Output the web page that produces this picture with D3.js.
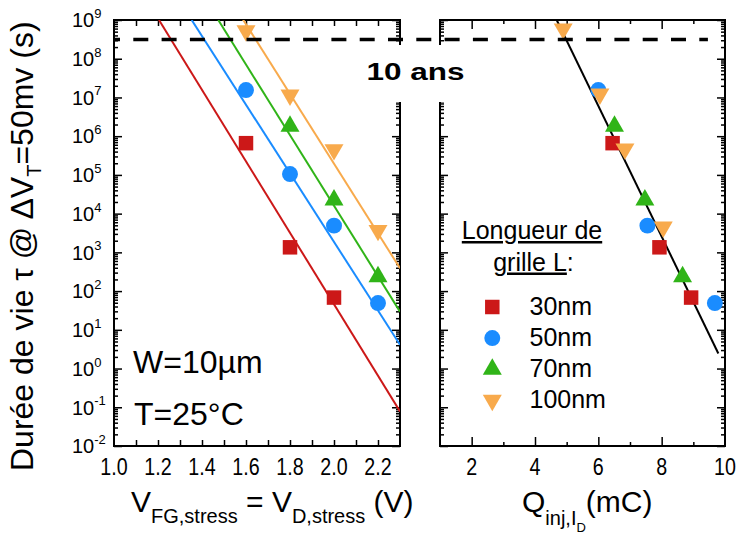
<!DOCTYPE html>
<html><head><meta charset="utf-8">
<script src="https://cdn.jsdelivr.net/npm/d3@7"></script>
<style>
html,body{margin:0;padding:0;background:#fff;}
svg text{font-family:'Liberation Sans',Arial,sans-serif;fill:#000;}
</style></head>
<body><svg id="c" width="739" height="536"></svg>
<script>
// ---------- DATA ----------
const gateLengths = ["30nm","50nm","70nm","100nm"];
// Left panel: stress voltage (V) vs lifetime (s)
const vStress30 = [1.6, 1.8, 2.0];
const tau30 = [6.6e5, 1.35e3, 68];
const vStress50 = [1.6, 1.8, 2.0, 2.2];
const tau50 = [1.55e7, 1.05e5, 4.9e3, 49];
const vStress70 = [1.8, 2.0, 2.2];
const tau70 = [1.8e6, 2.25e4, 235];
const vStress100 = [1.6, 1.8, 2.0, 2.2];
const tau100 = [5.3e8, 1.15e7, 4.5e5, 3.7e3];
// Left panel fit lines (two end points each, data units)
const fitV30 = [1.2045, 2.3], fitTau30 = [1e9, 0.078];
const fitV50 = [1.353, 2.3], fitTau50 = [1e9, 4.1];
const fitV70 = [1.474, 2.3], fitTau70 = [1e9, 29.5];
const fitV100 = [1.575, 2.3], fitTau100 = [1.3e9, 389];
// Right panel: injected charge (mC) vs lifetime (s)
const q30 = [6.45, 7.93, 8.93];
const tauQ30 = [6.6e5, 1.35e3, 68];
const q50 = [6.0, 7.55, 9.68];
const tauQ50 = [1.55e7, 4.9e3, 49];
const q70 = [6.51, 7.47, 8.66];
const tauQ70 = [1.8e6, 2.25e4, 235];
const q100 = [4.89, 6.05, 6.84, 8.05];
const tauQ100 = [5.9e8, 1.23e7, 4.7e5, 4.5e3];
const fitQ = [4.685, 9.79], fitTauQ = [1e9, 2.45];
// Reference: 10 years in seconds
const tenYears = 3.156e8;
// Ticks
const yDecades = [-2,-1,0,1,2,3,4,5,6,7,8,9];
const xTicksL = [1.1,1.2,1.3,1.4,1.5,1.6,1.7,1.8,1.9,2.0,2.1,2.2];
const xLabelValsL = [1.0,1.2,1.4,1.6,1.8,2.0,2.2];
const xLabelsL = ["1.0","1.2","1.4","1.6","1.8","2.0","2.2"];
const xTicksR = [2,3,4,5,6,7,8,9];
const xLabelValsR = [2,4,6,8,10];
const xLabelsR = ["2","4","6","8","10"];

// ---------- STYLE ----------
const colors = ["#cc1818","#1a8cff","#30b418","#f8aa4c"];
const symTypes = [d3.symbolSquare, d3.symbolCircle, d3.symbolTriangle, d3.symbolTriangle];
const symSizes = [210, 200, 156, 156];
const symRot = [0,0,0,180];

const svg = d3.select("#c");
const P = {top:20, bottom:446, lx0:114, lx1:400, rx0:440, rx1:725};
const y = d3.scaleLog().domain([1e-2,1e9]).range([P.bottom,P.top]);
const xL = d3.scaleLinear().domain([1.0,2.3]).range([P.lx0,P.lx1]);
const xR = d3.scaleLinear().domain([1,10]).range([P.rx0,P.rx1]);

const majorY = yDecades.map(e=>Math.pow(10,e));
const minorY = [];
yDecades.forEach(e=>{ if(e<9) for(let k=2;k<=9;k++) minorY.push(k*Math.pow(10,e)); });

// clip paths
const defs = svg.append("defs");
defs.append("clipPath").attr("id","clipL").append("rect")
  .attr("x",P.lx0).attr("y",P.top).attr("width",P.lx1-P.lx0).attr("height",P.bottom-P.top);
defs.append("clipPath").attr("id","clipR").append("rect")
  .attr("x",P.rx0).attr("y",P.top).attr("width",P.rx1-P.rx0).attr("height",P.bottom-P.top);

function yTicks(x0, x1){
  const g = svg.append("g");
  const mk = (axisFn, x, vals, len) => {
    const a = g.append("g").attr("transform",`translate(${x},0)`)
      .call(axisFn(y).tickValues(vals).tickSize(-len).tickFormat(""));
    a.select(".domain").remove();
    a.selectAll("line").attr("stroke","#000").attr("stroke-width",1.5);
  };
  mk(d3.axisLeft, x0, majorY, 8);
  mk(d3.axisLeft, x0, minorY, 4);
  mk(d3.axisRight, x1, majorY, 8);
  mk(d3.axisRight, x1, minorY, 4);
}
function xTicks(scale, vals, len){
  const g = svg.append("g");
  const b = g.append("g").attr("transform",`translate(0,${P.bottom})`)
    .call(d3.axisBottom(scale).tickValues(vals).tickSize(-1).tickFormat(""));
  const t = g.append("g").attr("transform",`translate(0,${P.top})`)
    .call(d3.axisTop(scale).tickValues(vals).tickSize(-1).tickFormat(""));
  [b,t].forEach(a=>{a.select(".domain").remove();});
  b.selectAll("line").attr("y2",d=>-len(d));
  t.selectAll("line").attr("y2",d=>len(d));
  g.selectAll("line").attr("stroke","#000").attr("stroke-width",1.5);
}

yTicks(P.lx0,P.lx1);
yTicks(P.rx0,P.rx1);
xTicks(xL, xTicksL, ()=>6);
xTicks(xR, xTicksR, d=> d%2===0 ? 9 : 4);

// frames
[[P.lx0,P.lx1],[P.rx0,P.rx1]].forEach(([a,b])=>{
  svg.append("rect").attr("x",a).attr("y",P.top).attr("width",b-a).attr("height",P.bottom-P.top)
    .attr("fill","none").attr("stroke","#000").attr("stroke-width",2);
});

// y tick labels
const yl = svg.append("g");
majorY.forEach((v,i)=>{
  const t = yl.append("text").attr("x",72).attr("y",y(v)+7.3).attr("font-size",20);
  t.append("tspan").text("10");
  t.append("tspan").attr("dy",-9.3).attr("font-size",13).text(String(yDecades[i]));
});

// x tick labels (narrow)
function xLabels(scale, vals, labels){
  vals.forEach((v,i)=>{
    svg.append("text").attr("text-anchor","middle").attr("font-size",24)
      .attr("transform",`translate(${scale(v)},475) scale(0.82,1)`).text(labels[i]);
  });
}
xLabels(xL, xLabelValsL, xLabelsL);
xLabels(xR, xLabelValsR, xLabelsR);

// fit lines
const line = (xs)=> d3.line().x(d=>xs(d[0])).y(d=>y(d[1]));
const fitsL = [[fitV30,fitTau30],[fitV50,fitTau50],[fitV70,fitTau70],[fitV100,fitTau100]];
const gL = svg.append("g").attr("clip-path","url(#clipL)");
fitsL.forEach(([xs,ts],i)=>{
  gL.append("path").attr("d",line(xL)(xs.map((v,j)=>[v,ts[j]])))
    .attr("fill","none").attr("stroke",colors[i]).attr("stroke-width",2);
});
const gR = svg.append("g").attr("clip-path","url(#clipR)");
gR.append("path").attr("d",line(xR)(fitQ.map((v,j)=>[v,fitTauQ[j]])))
  .attr("fill","none").attr("stroke","#000").attr("stroke-width",2);

// markers
function markers(xs, xv, tv, i){
  const sym = d3.symbol().type(symTypes[i]).size(symSizes[i]);
  xv.forEach((v,j)=>{
    svg.append("path").attr("d",sym())
      .attr("transform",`translate(${xs(v)},${y(tv[j])}) rotate(${symRot[i]})`)
      .attr("fill",colors[i]);
  });
}
markers(xL, vStress30, tau30, 0);
markers(xL, vStress50, tau50, 1);
markers(xL, vStress70, tau70, 2);
markers(xL, vStress100, tau100, 3);
markers(xR, q50, tauQ50, 1);
markers(xR, q30, tauQ30, 0);
markers(xR, q70, tauQ70, 2);
markers(xR, q100, tauQ100, 3);

// 10 years dashed line
svg.append("line").attr("x1",xL(1.0)-1).attr("x2",xR(9.46))
  .attr("y1",y(tenYears)).attr("y2",y(tenYears))
  .attr("stroke","#000").attr("stroke-width",3.5)
  .attr("stroke-dasharray","15,13.3").attr("stroke-dashoffset",8);

// white box + label
svg.append("rect").attr("x",358).attr("y",45).attr("width",114).attr("height",57).attr("fill","#fff");
svg.append("text").attr("x",366.5).attr("y",80).attr("font-size",24).attr("font-weight","bold")
  .attr("textLength",98).attr("lengthAdjust","spacingAndGlyphs").text("10 ans");

// annotations
svg.append("text").attr("x",133).attr("y",373).attr("font-size",32).text("W=10µm");
svg.append("text").attr("x",134).attr("y",424.5).attr("font-size",32).text("T=25°C");

// legend
const lg = svg.append("g");
const h1 = lg.append("text").attr("x",532).attr("y",239).attr("text-anchor","middle").attr("font-size",25);
h1.append("tspan").attr("text-decoration","underline").text("Longueur de");
const h2 = lg.append("text").attr("x",533.5).attr("y",270.5).attr("text-anchor","middle").attr("font-size",25);
h2.append("tspan").attr("text-decoration","underline").text("grille L");
h2.append("tspan").text(":");
gateLengths.forEach((name,i)=>{
  const by = 315 + i*31.1;
  const sym = d3.symbol().type(symTypes[i]).size(symSizes[i]);
  lg.append("path").attr("d",sym()).attr("fill",colors[i])
    .attr("transform",`translate(492.3,${by-8}) rotate(${symRot[i]})`);
  lg.append("text").attr("x",529.5).attr("y",by).attr("font-size",25).text(name);
});

// axis titles
const yt = svg.append("text").attr("transform","translate(33,471) rotate(-90)").attr("font-size",32);
yt.append("tspan").text("Durée de vie τ @ ΔV");
yt.append("tspan").attr("font-size",20).attr("dy",8).text("T");
yt.append("tspan").attr("dy",-8).text("=50mv (s)");

const xt = svg.append("text").attr("x",131).attr("y",512).attr("font-size",30);
xt.append("tspan").text("V");
xt.append("tspan").attr("font-size",20).attr("dy",11).text("FG,stress");
xt.append("tspan").attr("dy",-11).text(" = V");
xt.append("tspan").attr("font-size",20).attr("dy",11).text("D,stress");
xt.append("tspan").attr("dy",-11).text(" (V)");

const qt = svg.append("text").attr("x",522).attr("y",512).attr("font-size",30);
qt.append("tspan").text("Q");
qt.append("tspan").attr("font-size",20).attr("dy",13).text("inj,I");
qt.append("tspan").attr("font-size",13).attr("dy",6.5).text("D");
qt.append("tspan").attr("dy",-19.5).text("(mC)");
</script></body></html>
